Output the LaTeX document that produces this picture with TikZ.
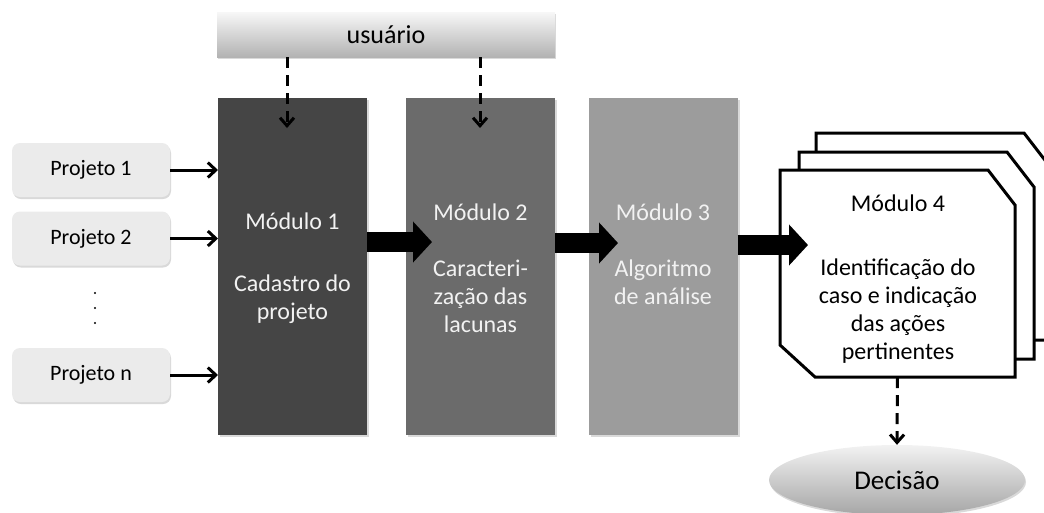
\documentclass[tikz,border=0pt]{standalone}
\usepackage{fontspec}
\setmainfont{Carlito}
\usepackage{tikz}
\usetikzlibrary{arrows.meta}
\usetikzlibrary{calc}
\usetikzlibrary{shapes}
\usetikzlibrary{shadows}

\begin{document}
\begin{tikzpicture}[x=1pt, y=-1pt,
        user_style/.style={rectangle,inner sep=0pt,minimum width=338pt,minimum height=45pt,top color=black!3,bottom color=black!30,drop shadow={opacity=0.3,shadow xshift=1pt,shadow yshift=-2pt},font=\fontsize{26}{30}\selectfont},
        project_style/.style={rectangle,rounded corners=8pt,inner sep=0pt,minimum width=158pt,minimum height=54pt,fill=black!8,drop shadow={opacity=0.3,shadow xshift=1pt,shadow yshift=-2pt},font=\fontsize{22}{26}\selectfont},
        module_style/.style={rectangle,inner sep=0pt,outer sep=0pt,minimum width=149pt,minimum height=337pt,drop shadow={opacity=0.3,shadow xshift=2pt,shadow yshift=-2pt}},
        module_text/.style={align=center,text=black!5,font=\fontsize{24}{28}\selectfont},
        stack_style/.style={draw=black,line width=3pt,line join=miter,fill=white},
        decision_style/.style={ellipse,inner sep=0pt,minimum width=256pt,minimum height=70pt,top color=black!5,bottom color=black!35,drop shadow={opacity=0.3,shadow xshift=1pt,shadow yshift=-2pt},font=\fontsize{27}{30}\selectfont},
        edge_style/.style={draw=black,line width=3pt,-{Straight Barb[length=8pt,width=15pt]}},
        dashed_edge_style/.style={draw=black,line width=3pt,dash pattern=on 11pt off 7pt,-{Straight Barb[length=8pt,width=14pt]}},
        block_edge_style/.style={draw=black,line width=20pt,-{Triangle[length=19pt,width=40pt]}}]

        \useasboundingbox (0,0) rectangle (1044,512);
        \clip (0,0) rectangle (1044,512);

        \node [user_style](user) at (386,34.5) {usuário};

        \node [project_style](p1) at (91,170) {Projeto 1};
        \node [project_style](p2) at (91,238.5) {Projeto 2};
        \node [project_style](pn) at (91,375) {Projeto n};
        \foreach \y in {293,308,323}
            \fill (95,\y) circle (1.2pt);

        \node [module_style,fill=black!73](m1) at (292.5,266.5) {};
        \node [module_style,fill=black!58](m2) at (480.5,266.5) {};
        \node [module_style,fill=black!39](m3) at (663,266.5) {};

        \node [module_text](t1) at (292.5,268) {Módulo 1\\[34pt]Cadastro do\\projeto};
        \node [module_text](t2) at (480.5,268.5) {Módulo 2\\[28pt]Caracteri-\\zação das\\lacunas};
        \node [module_text](t3) at (663,254) {Módulo 3\\[28pt]Algoritmo\\de análise};

        % stacked sheets of module 4
        \foreach \dx/\dy in {36/-37,19/-18,0/0}
            \draw [stack_style,shift={(\dx,\dy)}] (780,170) -- (988,170) -- (1015,205) -- (1015,377) -- (815,377) -- (780,345) -- cycle;
        \node [rectangle,inner sep=0pt,minimum width=235pt,minimum height=207pt,align=center,font=\fontsize{24}{28}\selectfont](m4) at (897.5,273.5) {};
        \node [align=center,font=\fontsize{24}{28}\selectfont](t4) at (898,279.5) {Módulo 4\\[36pt]Identificação do\\caso e indicação\\das ações\\pertinentes};

        \node [decision_style](dec) at (897,480) {Decisão};

        \draw [edge_style] (p1) -- (p1 -| m1.west);
        \draw [edge_style] (p2) -- (p2 -| m1.west);
        \draw [edge_style] (pn) -- (pn -| m1.west);

        \coordinate (a1) at (432,242);
        \coordinate (a2) at (618,243);
        \coordinate (a3) at (808,245);
        \draw [block_edge_style] (m1.east |- a1) -- (a1);
        \draw [block_edge_style] (m2.east |- a2) -- (a2);
        \draw [block_edge_style] (m3.east |- a3) -- (a3);

        \coordinate (u1) at (287,128);
        \coordinate (u2) at (480,128);
        \draw [dashed_edge_style] (user.south -| u1) -- (u1);
        \draw [dashed_edge_style] (user.south -| u2) -- (u2);
        \draw [dashed_edge_style] (m4.south) -- (dec.north);

\end{tikzpicture}
\end{document}
